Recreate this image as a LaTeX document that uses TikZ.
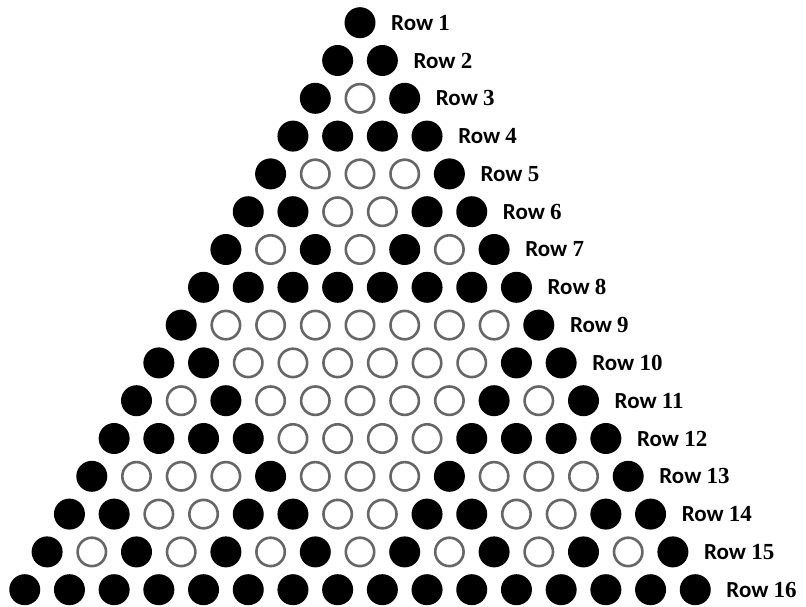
\documentclass[tikz,border=0pt]{standalone}
\usepackage{fontspec}
\setmainfont{Carlito}
\newfontfamily\digitfont{Liberation Serif}
\begin{document}
\begin{tikzpicture}[x=1pt,y=-1pt,
 dot/.style={circle,minimum size=31pt,inner sep=0pt,fill=black},
 hole/.style={circle,minimum size=28.4pt,inner sep=0pt,draw=black!60,line width=2.6pt,fill=white},
 rowlabel/.style={anchor=west,font=\fontsize{23}{25}\selectfont\bfseries,inner sep=0pt}]
\useasboundingbox (0,0) rectangle (806,607);
\foreach \n in {1,...,16}{
  \pgfmathtruncatemacro\m{\n-1}
  \pgfmathsetmacro\yy{22.7+(\n-1)*37.8}
  \foreach \k in {0,...,\m}{
    \pgfmathtruncatemacro\r{\n-1-\k}
    \pgfmathtruncatemacro\c{mod(\k,2)*mod(\r,2)+mod(floor(\k/2),2)*mod(floor(\r/2),2)+mod(floor(\k/4),2)*mod(floor(\r/4),2)+mod(floor(\k/8),2)*mod(floor(\r/8),2)}
    \pgfmathsetmacro\xx{360+(\k-(\n-1)/2)*44.7}
    \ifnum\c=0 \def\sty{dot}\else\def\sty{hole}\fi
    \node[\sty] (c-\n-\k) at (\xx,\yy) {};
  }
  \pgfmathsetmacro\xl{360+((\n-1)/2)*44.7+31}
  \node[rowlabel] (l-\n) at (\xl,\yy) {Row {\digitfont\bfseries\n}};
}
\end{tikzpicture}
\end{document}
